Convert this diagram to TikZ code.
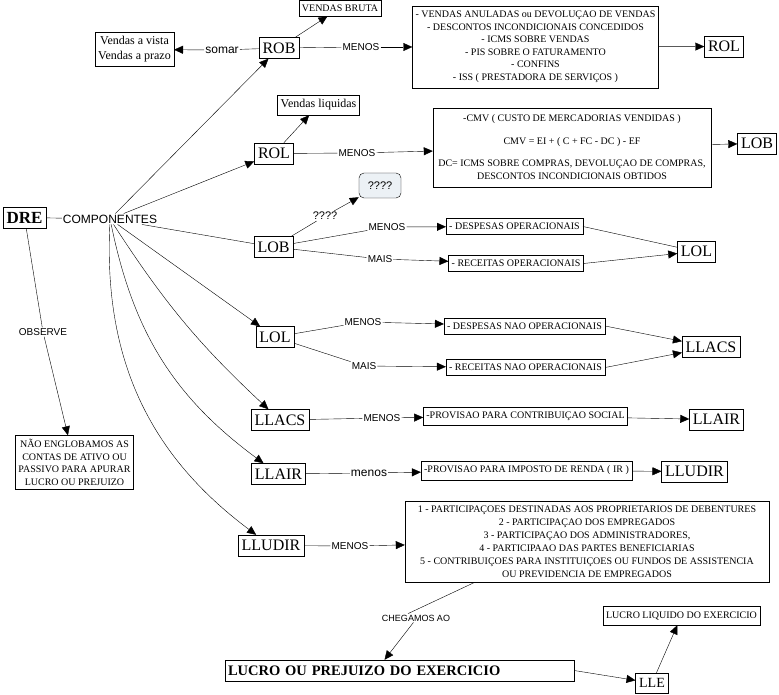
\documentclass[tikz,border=0pt]{standalone}
\usepackage{fontspec}
\setmainfont{Liberation Serif}
\setsansfont{Liberation Sans}
\usetikzlibrary{arrows.meta}
\definecolor{qfill}{RGB}{236,241,245}
\tikzset{
    conc/.style={draw, font=\fontsize{16}{18}\selectfont, inner xsep=3.5pt, minimum height=21pt},
    nota/.style={draw, font=\fontsize{10}{12.5}\selectfont, align=center, inner xsep=3pt, inner ysep=3pt, minimum height=16pt},
    lbl/.style={font=\sffamily\fontsize{10}{12}\selectfont, inner sep=1pt},
    arr/.style={-{Triangle[length=9pt,width=8pt]}}
}

\begin{document}
\begin{tikzpicture}[x=1pt,y=-1pt]
    \useasboundingbox (0,0) rectangle (779,695);
    \node[conc, font=\bfseries\fontsize{17}{20}\selectfont] (DRE) at (24.5,217.5) {DRE};
    \node[lbl, font=\sffamily\fontsize{12}{14}\selectfont] (comp) at (110,219) {COMPONENTES};
    %\node[lbl] (comp) at (110,219) {COMPONENTES};
    \node[conc] (ROB) at (279,48) {ROB};
    \node[nota] (vbruta) at (340,8) {VENDAS BRUTA};
    \node[nota, font=\fontsize{12}{15}\selectfont, inner ysep=4pt] (vvista) at (134.5,49.5) {Vendas a vista\\Vendas a prazo};
    \node[nota, minimum width=243, minimum height=82] (dedROB) at (535.5,47) {- VENDAS ANULADAS ou DEVOLUÇAO DE VENDAS\\- DESCONTOS INCONDICIONAIS CONCEDIDOS\\- ICMS SOBRE VENDAS\\- PIS SOBRE O FATURAMENTO\\- CONFINS\\- ISS ( PRESTADORA DE SERVIÇOS )};
    \node[conc] (ROLa) at (724,46.5) {ROL};
    \node[nota, font=\fontsize{12}{15}\selectfont, minimum height=20] (vliq) at (318.5,105) {Vendas liquidas};
    \node[conc] (ROL) at (274,153.5) {ROL};
    \node[nota, font=\fontsize{10}{13}\selectfont, minimum width=278, minimum height=79] (cmv) at (572,147.5) {-CMV ( CUSTO DE MERCADORIAS VENDIDAS )\\[10pt]CMV = EI + ( C + FC - DC ) - EF\\[9pt]DC= ICMS SOBRE COMPRAS, DEVOLUÇAO DE COMPRAS,\\DESCONTOS INCONDICIONAIS OBTIDOS};
    \node[conc] (LOBa) at (757,143.5) {LOB};
    \node[draw, rounded corners=5pt, fill=qfill, font=\sffamily\fontsize{11}{13}\selectfont, minimum width=42, minimum height=25] (qq) at (380,185.5) {????};
    \node[conc] (LOB) at (273.5,247) {LOB};
    \node[nota] (despop) at (514.5,226.5) {- DESPESAS OPERACIONAIS};
    \node[nota] (recop) at (516,263.5) {- RECEITAS OPERACIONAIS};
    \node[conc] (LOLa) at (696.5,251.5) {LOL};
    \node[conc] (LOL) at (275,337) {LOL};
    \node[nota] (despnop) at (524.5,326) {- DESPESAS NAO OPERACIONAIS};
    \node[nota] (recnop) at (525.5,367.5) {- RECEITAS NAO OPERACIONAIS};
    \node[conc] (LLACSa) at (711,347) {LLACS};
    \node[conc] (LLACS) at (280,420) {LLACS};
    \node[nota, minimum width=195, minimum height=18] (provcs) at (525.5,416) {-PROVISAO PARA CONTRIBUIÇAO SOCIAL};
    \node[conc] (LLAIRa) at (716.5,419.5) {LLAIR};
    \node[conc] (LLAIR) at (278.5,474) {LLAIR};
    \node[nota, minimum width=193, minimum height=19] (provir) at (526.5,470.5) {-PROVISAO PARA IMPOSTO DE RENDA ( IR )};
    \node[conc] (LLUDIRa) at (694.5,471.5) {LLUDIR};
    \node[conc] (LLUDIR) at (271,545.5) {LLUDIR};
    \node[nota, font=\fontsize{10}{13}\selectfont, minimum width=364, minimum height=81] (part) at (587,541.5) {1 - PARTICIPAÇOES DESTINADAS AOS PROPRIETARIOS DE DEBENTURES\\2 - PARTICIPAÇAO DOS EMPREGADOS\\3 - PARTICIPAÇAO DOS ADMINISTRADORES,\\4 - PARTICIPAAO DAS PARTES BENEFICIARIAS\\5 - CONTRIBUIÇOES PARA INSTITUIÇOES OU FUNDOS DE ASSISTENCIA\\OU PREVIDENCIA DE EMPREGADOS};
    \node[nota, inner ysep=4pt] (obs) at (74.5,462.5) {NÃO ENGLOBAMOS AS\\CONTAS DE ATIVO OU\\PASSIVO PARA APURAR\\LUCRO OU PREJUIZO};
    \node[nota, font=\bfseries\fontsize{14.5}{17}\selectfont, text width=343, align=left, minimum height=21] (lucro) at (399.5,670.5) {LUCRO OU PREJUIZO DO EXERCICIO};
    \node[conc, font=\fontsize{14}{16}\selectfont, minimum height=20] (LLE) at (652,683) {LLE};
    \node[nota, minimum height=19] (lliq) at (681.5,615.5) {LUCRO LIQUIDO DO EXERCICIO};
    % frases de ligacao
    \node[lbl, font=\sffamily\fontsize{12}{14}\selectfont] (lsomar) at (222,50) {somar};
    \node[lbl] (lmROB) at (361,47) {MENOS};
    \node[lbl] (lmROL) at (357,153) {MENOS};
    \node[lbl, font=\sffamily\fontsize{11}{13}\selectfont] (lq) at (325,216) {????};
    \node[lbl] (lmLOB) at (387,227) {MENOS};
    \node[lbl] (lpLOB) at (380,259) {MAIS};
    \node[lbl] (lmLOL) at (363,322) {MENOS};
    \node[lbl] (lpLOL) at (364,366) {MAIS};
    \node[lbl] (lmLLACS) at (382,418) {MENOS};
    \node[lbl, font=\sffamily\fontsize{12}{14}\selectfont] (lmLLAIR) at (369,473) {menos};
    \node[lbl] (lmLLUDIR) at (350,546) {MENOS};
    \node[lbl] (lobs) at (43,332) {OBSERVE};
    \node[lbl, font=\sffamily\fontsize{9}{11}\selectfont] (lcheg) at (416,618) {CHEGAMOS AO};
    \draw (DRE) -- (comp);
    \draw (DRE) -- (lobs);
    \draw[arr] (lobs) -- (obs);
    \draw[arr] (comp) -- (ROB);
    \draw[arr] (comp) -- (ROL);
    \draw (comp) -- (LOB);
    \draw[arr] (comp) -- (LOL);
    \draw[arr] (comp) to[bend right=7] (LLACS);
    \draw[arr] (comp) to[bend right=21] (LLAIR);
    \draw[arr] (comp) to[bend right=28] (LLUDIR);
    \draw[arr] (ROB) -- (vbruta);
    \draw (ROB) -- (lsomar);
    \draw[arr] (lsomar) -- (vvista);
    \draw (ROB) -- (lmROB);
    \draw[arr] (lmROB) -- (dedROB);
    \draw[arr] (dedROB) -- (ROLa);
    \draw[arr] (ROL) -- (vliq);
    \draw (ROL) -- (lmROL);
    \draw[arr] (lmROL) -- (cmv);
    \draw[arr] (cmv) -- (LOBa);
    \draw (LOB) -- (lq);
    \draw[arr] (lq) -- (qq);
    \draw (LOB) -- (lmLOB);
    \draw[arr] (lmLOB) -- (despop);
    \draw (LOB) -- (lpLOB);
    \draw[arr] (lpLOB) -- (recop);
    \draw (despop.east) -- (LOLa);
    \draw[arr] (recop.east) -- (LOLa);
    \draw (LOL) -- (lmLOL);
    \draw[arr] (lmLOL) -- (despnop);
    \draw (LOL) -- (lpLOL);
    \draw[arr] (lpLOL) -- (recnop);
    \draw[arr] (despnop.east) -- (LLACSa);
    \draw[arr] (recnop.east) -- (LLACSa);
    \draw (LLACS) -- (lmLLACS);
    \draw[arr] (lmLLACS) -- (provcs);
    \draw[arr] (provcs) -- (LLAIRa);
    \draw (LLAIR) -- (lmLLAIR);
    \draw[arr] (lmLLAIR) -- (provir);
    \draw[arr] (provir) -- (LLUDIRa);
    \draw (LLUDIR) -- (lmLLUDIR);
    \draw[arr] (lmLLUDIR) -- (part);
    \draw ([xshift=-112pt]part.south) -- ([xshift=-8pt]lcheg.north);
    \draw[arr] (lcheg.240) -- ([xshift=-15pt]lucro.north);
    \draw[arr] (lucro.east) -- (LLE);
    \draw[arr] (LLE) -- (lliq);
\end{tikzpicture}
\end{document}
